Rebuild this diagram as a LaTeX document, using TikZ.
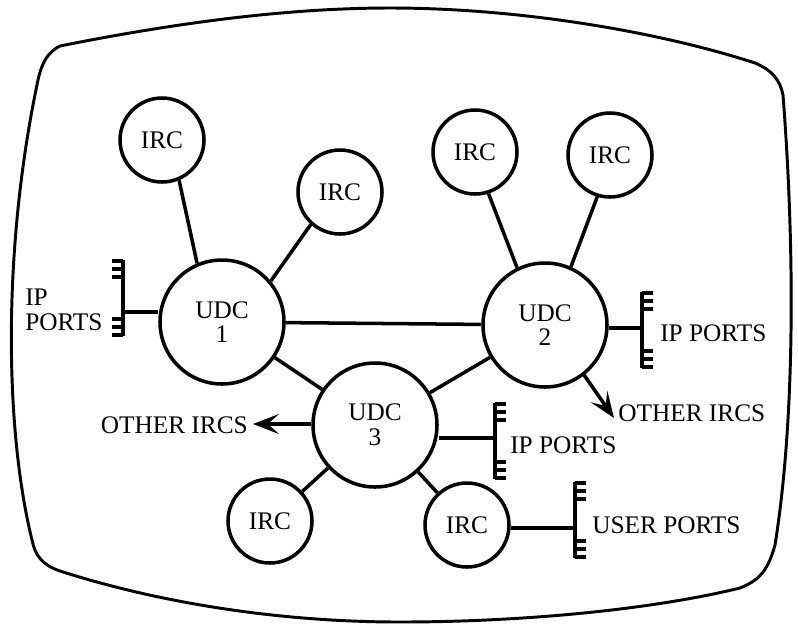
\documentclass[tikz,border=0pt]{standalone}
\usepackage{fontspec}
\setmainfont{Liberation Serif}
\usetikzlibrary{arrows.meta}

\begin{document}
\begin{tikzpicture}[x=0.25mm,y=-0.25mm,>={Stealth[length=6.5mm,width=5mm,inset=2.8mm]},
 font=\fontsize{18}{17.5}\selectfont,
 irc/.style={draw,circle,line width=2.5pt,inner sep=0pt,minimum size=21mm},
 udc/.style={draw,circle,line width=2.5pt,inner sep=0pt,minimum size=31mm,align=center},
 a/.style={line width=2.5pt},
 lbl/.style={inner sep=0pt,align=left},
 ports/.pic={\draw[line width=2.8pt] (0,-38)--(0,38);
  \foreach \t in {-37,-29,-21,21,29,37} \draw[line width=2.4pt] (0,\t)--(11,\t);}]
\useasboundingbox (0,0) rectangle (798,624);
\draw[line width=2.1pt] (60,46) .. controls (180,22) and (290,8) .. (390,8)
 .. controls (520,8) and (660,32) .. (755,63) .. controls (772,70) and (780,80) .. (783,95)
 .. controls (795,250) and (795,420) .. (775,545) .. controls (768,570) and (760,580) .. (740,588)
 .. controls (650,610) and (520,622) .. (400,622) .. controls (270,622) and (150,600) .. (60,571)
 .. controls (42,565) and (35,555) .. (32,540) .. controls (5,430) and (2,250) .. (38,80)
 .. controls (42,62) and (48,52) .. (60,46) -- cycle;
\node[irc] (i1) at (162,140) {IRC};
\node[irc] (i2) at (340,192) {IRC};
\node[irc] (i3) at (475,152) {IRC};
\node[irc] (i4) at (610,155) {IRC};
\node[irc] (i5) at (270,521) {IRC};
\node[irc] (i6) at (467,525) {IRC};
\node[udc] (u1) at (222,322) {UDC\\1};
\node[udc] (u2) at (545,325) {UDC\\2};
\node[udc] (u3) at (375,425) {UDC\\3};
\draw[a] (i1.293) -- (u1.113); \draw[a] (i2.228) -- (u1.40);
\draw[a] (i3.288) -- (u2.116); \draw[a] (i4.253) -- (u2.66);
\draw[a] (u1) -- (u2); \draw[a] (u1) -- (u3); \draw[a] (u2) -- (u3);
\draw[a] (u3) -- (i5); \draw[a] (u3) -- (i6);
\pic[xscale=-1] at (123,298) {ports}; \coordinate (p1) at (123,312);
\pic at (642,330) {ports}; \coordinate (p2) at (642,328);
\pic at (495,441) {ports}; \coordinate (p3) at (495,438);
\pic at (575,520) {ports}; \coordinate (p4) at (575,528);
\draw[a] (u1.west |- p1) -- (p1); \draw[a] (u2.east |- p2) -- (p2);
\draw[a] (u3.east |- p3) -- (p3); \draw[a] (i6.east |- p4) -- (p4);
\coordinate (o1) at (253,424); \coordinate (o2) at (614,418);
\draw[a,->] (u3.west |- o1) -- (o1); \draw[a,->] (u2.308) -- (o2);
\node[lbl,anchor=west] (t1) at (25,310) {IP\\PORTS};
\node[lbl,anchor=west] (t2) at (660,333) {IP PORTS};
\node[lbl,anchor=west] (t3) at (510,445) {IP PORTS};
\node[lbl,anchor=west] (t4) at (592,525) {USER PORTS};
\node[lbl,anchor=east] (t5) at (248,425) {OTHER IRCS};
\node[lbl,anchor=west] (t6) at (618,413) {OTHER IRCS};
\end{tikzpicture}
\end{document}
